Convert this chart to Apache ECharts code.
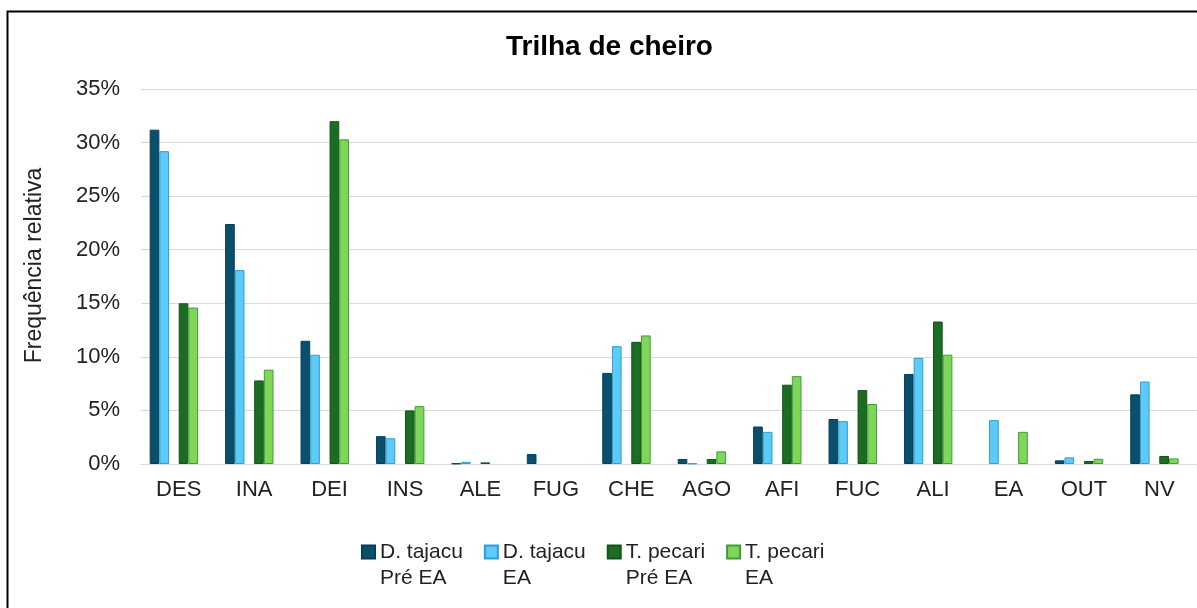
<!DOCTYPE html>
<html>
<head>
<meta charset="utf-8">
<script src="https://cdn.jsdelivr.net/npm/echarts@6/dist/echarts.min.js"></script>
<style>
html,body{margin:0;padding:0;background:#fff;}
#chart{width:1197px;height:608px;}
</style>
</head>
<body>
<div id="chart"></div>
<script>
const categories = ['DES','INA','DEI','INS','ALE','FUG','CHE','AGO','AFI','FUC','ALI','EA','OUT','NV'];
const seriesNames = ['D. tajacu\nPré EA','D. tajacu\nEA','T. pecari\nPré EA','T. pecari\nEA'];
const dTajacuPre = [31.2, 22.4, 11.5, 2.6, 0.05, 0.93, 8.5, 0.47, 3.5, 4.2, 8.4, 0, 0.34, 6.5];
const dTajacuEA  = [29.2, 18.1, 10.2, 2.4, 0.2, 0, 11.0, 0.05, 3.0, 4.0, 9.9, 4.1, 0.62, 7.7];
const tPecariPre = [15.0, 7.8, 32.0, 5.0, 0.15, 0, 11.4, 0.47, 7.4, 6.9, 13.3, 0, 0.28, 0.75];
const tPecariEA  = [14.6, 8.8, 30.3, 5.4, 0, 0, 12.0, 1.18, 8.2, 5.6, 10.2, 3.0, 0.49, 0.52];
const yTicks = { min: 0, max: 35, interval: 5 };

const fills = ['#0A4F6C', '#5CCBF7', '#1C6D23', '#7FD65A'];
const borders = ['#083F57', '#2F9FD4', '#145419', '#3E9C36'];
const FONT = '"Liberation Sans", Arial, sans-serif';

function barSeries(name, data, i) {
  return {
    name: name, type: 'bar',
    data: data.map(v => v === 0 ? { value: 0, itemStyle: { borderWidth: 0, opacity: 0 } } : v),
    itemStyle: { color: fills[i], borderColor: borders[i], borderWidth: 1 },
    emphasis: { disabled: true }
  };
}
function gapSeries(name) {
  return { name: name, type: 'bar', data: categories.map(() => '-'), silent: true };
}

const chart = echarts.init(document.getElementById('chart'), null, { renderer: 'canvas' });
chart.setOption({
  animation: false,
  backgroundColor: '#fff',
  title: {
    text: 'Trilha de cheiro',
    left: 506, top: 33, padding: 0,
    textStyle: { fontFamily: FONT, fontSize: 28, fontWeight: 'bold', color: '#000' }
  },
  legend: {
    data: seriesNames,
    left: 361, top: 513, padding: 0,
    itemWidth: 13, itemHeight: 13, itemGap: 21,
    icon: 'rect',
    formatter: name => ' \n' + name,
    textStyle: { fontFamily: FONT, fontSize: 21, color: '#222', lineHeight: 26 }
  },
  grid: { left: 141, right: 0, top: 89, bottom: 144, containLabel: false },
  xAxis: {
    type: 'category', data: categories,
    axisLine: { lineStyle: { color: '#d9d9d9', width: 1 } },
    axisTick: { show: false },
    axisLabel: { fontFamily: FONT, fontSize: 22, color: '#222', margin: 15 }
  },
  yAxis: {
    type: 'value', min: yTicks.min, max: yTicks.max, interval: yTicks.interval,
    name: 'Frequência relativa', nameLocation: 'middle', nameGap: 95,
    nameTextStyle: { fontFamily: FONT, fontSize: 23, color: '#222', padding: [0, 0, 0, 22] },
    axisLine: { show: false }, axisTick: { show: false },
    splitLine: { lineStyle: { color: '#d9d9d9', width: 1 } },
    axisLabel: { fontFamily: FONT, fontSize: 22, color: '#222', margin: 21, formatter: '{value}%' }
  },
  series: [
    Object.assign(barSeries(seriesNames[0], dTajacuPre, 0), { barGap: '0%', barCategoryGap: '23%' }),
    barSeries(seriesNames[1], dTajacuEA, 1),
    gapSeries('gap1'),
    barSeries(seriesNames[2], tPecariPre, 2),
    barSeries(seriesNames[3], tPecariEA, 3),
    gapSeries('gap2')
  ],
  graphic: [{
    type: 'rect', silent: true, z: 100,
    shape: { x: 7.5, y: 11.5, width: 1400, height: 800 },
    style: { fill: null, stroke: '#000', lineWidth: 2 }
  }]
});
</script>
</body>
</html>
